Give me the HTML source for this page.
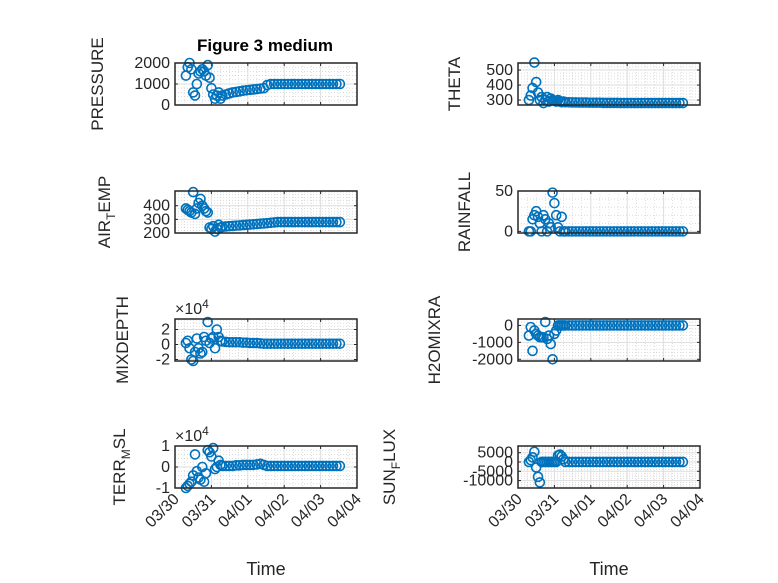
<!DOCTYPE html>
<html><head><meta charset="utf-8"><style>
body{margin:0;background:#fff}
svg{display:block;font-family:"Liberation Sans","DejaVu Sans",sans-serif}
</style></head><body>
<svg id="fig" width="778" height="583" viewBox="0 0 778 583">
<rect x="0" y="0" width="778" height="583" fill="#fff"/>
<text x="265" y="51" text-anchor="middle" font-weight="bold" font-size="17" fill="#000">Figure 3 medium</text>
</svg>
<script>
// shared time samples (days since 03/30)
const tEarly = [0.30,0.35,0.40,0.45,0.50,0.55,0.60,0.65,0.70,0.75,0.80,0.85,0.90,0.95,1.00,1.05,1.10,1.15,1.20,1.25];
const tDense = [1.30,1.395,1.49,1.585,1.68,1.775,1.87,1.965,2.06,2.155,2.25,2.345,2.44,2.535,2.63,2.725,2.82,2.915,3.01,3.105,3.20,3.295,3.39,3.485,3.58,3.675,3.77,3.865,3.96,4.055,4.15,4.245,4.34,4.435,4.53];
const xTickLabels = ["03/30","03/31","04/01","04/02","04/03","04/04"];

const pressureVals = [1400,1800,2000,1700,600,450,1000,1500,1600,1700,1600,1400,1900,1300,800,500,300,450,600,300,
 450,500,550,600,620,650,680,700,720,740,760,780,800,950,1000,1000,1000,1000,1000,1000,1000,1000,1000,1000,1000,1000,1000,1000,1000,1000,1000,1000,1000,1000,1000];
const thetaVals = [300,330,380,550,420,350,300,320,280,300,320,290,310,300,295,290,300,290,285,290,
 285,285,284,284,283,283,283,282,282,282,282,281,281,281,281,281,280,280,280,280,280,280,280,280,280,280,280,280,280,280,280,280,280,280,280];
const airTempVals = [380,370,360,350,500,340,380,420,450,400,380,360,350,240,230,250,210,230,260,240,
 245,248,250,252,254,256,258,260,262,264,266,268,270,272,275,278,280,280,280,280,280,280,280,280,280,280,280,280,280,280,280,280,280,280,280];
const rainfallVals = [0,0,15,20,25,18,10,0,20,15,0,10,5,48,35,20,5,0,18,0,
 0,0,0,0,0,0,0,0,0,0,0,0,0,0,0,0,0,0,0,0,0,0,0,0,0,0,0,0,0,0,0,0,0,0,0];
const mixDepthVals = [0.2,0.5,-0.5,-2,-2.2,-1,0.8,-0.5,-1.2,-1,1,0.5,3,0.2,0.8,1,-0.5,2,1,0.5,
 0.4,0.35,0.3,0.3,0.3,0.3,0.25,0.25,0.2,0.2,0.2,0.15,0.1,0.1,0.1,0.1,0.1,0.1,0.1,0.1,0.1,0.1,0.1,0.1,0.1,0.1,0.1,0.1,0.1,0.1,0.1,0.1,0.1,0.1,0.1];
const h2oVals = [-600,-100,-1500,-300,-500,-600,-700,-700,-700,200,-800,-600,-1100,-2000,-500,-300,0,0,0,0,
 0,0,0,0,0,0,0,0,0,0,0,0,0,0,0,0,0,0,0,0,0,0,0,0,0,0,0,0,0,0,0,0,0,0,0];
const terrVals = [-1,-0.9,-0.8,-0.7,-0.4,0.6,-0.2,-0.5,-0.6,0,-0.7,-0.3,0.8,0.7,0.5,0.9,-0.1,0,0.3,0.1,
 0.05,0.05,0.05,0.05,0.08,0.08,0.1,0.1,0.1,0.1,0.12,0.15,0.1,0.05,0.05,0.05,0.05,0.05,0.05,0.05,0.05,0.05,0.05,0.05,0.05,0.05,0.05,0.05,0.05,0.05,0.05,0.05,0.05,0.05,0.05];
const sunVals = [0,1000,2500,5500,-3000,-8000,-11000,0,0,0,0,0,0,0,0,0,3500,4000,3000,1500,
 0,0,0,0,0,0,0,0,0,0,0,0,0,0,0,0,0,0,0,0,0,0,0,0,0,0,0,0,0,0,0,0,0,0,0];

const tAll = tEarly.concat(tDense);
const NS = "http://www.w3.org/2000/svg";
const svg = document.getElementById("fig");
function el(tag, attrs, parent){const e=document.createElementNS(NS,tag);for(const k in attrs)e.setAttribute(k,attrs[k]);(parent||svg).appendChild(e);return e;}

const panels = [
 {name:"pressure",x0:175,y0:63,lab:["PRESSURE"],lx:103,vals:pressureVals,ymin:0,ymax:2000,ticks:[0,1000,2000],tl:["0","1000","2000"]},
 {name:"theta",x0:518,y0:63,lab:["THETA"],lx:460,vals:thetaVals,ymin:267,ymax:547,ticks:[300,400,500],tl:["300","400","500"]},
 {name:"air-temp",x0:175,y0:191,lab:["AIR","T","EMP"],lx:110,vals:airTempVals,ymin:200,ymax:508,ticks:[200,300,400],tl:["200","300","400"]},
 {name:"rainfall",x0:518,y0:191,lab:["RAINFALL"],lx:470,vals:rainfallVals,ymin:-2,ymax:50,ticks:[0,50],tl:["0","50"]},
 {name:"mixdepth",x0:175,y0:319,lab:["MIXDEPTH"],lx:128,vals:mixDepthVals,ymin:-2.2,ymax:3.4,ticks:[-2,0,2],tl:["-2","0","2"],exp:true},
 {name:"h2omixra",x0:518,y0:319,lab:["H2OMIXRA"],lx:440,vals:h2oVals,ymin:-2100,ymax:380,ticks:[-2000,-1000,0],tl:["-2000","-1000","0"]},
 {name:"terr-msl",x0:175,y0:446,lab:["TERR","M","SL"],lx:125,vals:terrVals,ymin:-1,ymax:1,ticks:[-1,0,1],tl:["-1","0","1"],exp:true,bottom:true},
 {name:"sun-flux",x0:518,y0:446,lab:["SUN","F","LUX"],lx:395,vals:sunVals,ymin:-14000,ymax:8600,ticks:[-10000,-5000,0,5000],tl:["-10000","-5000","0","5000"],bottom:true}
];
const W=182,H=42,days=5;
panels.forEach(p=>{
  const g=el("g",{});
  
  
  const xs=t=>p.x0+t/days*W;
  const ys=v=>p.y0+H-(v-p.ymin)/(p.ymax-p.ymin)*H;
  for(let d=0;d<=days*4;d++){if(d%4===0)continue;el("line",{x1:xs(d/4),x2:xs(d/4),y1:p.y0,y2:p.y0+H,stroke:"#c8c8c8","stroke-width":0.6,"stroke-dasharray":"1,2"},g);}
  const step=p.ticks[1]-p.ticks[0];
  for(let v=p.ticks[0]-step;v<=p.ymax;v+=step/5){if(v<p.ymin||v>p.ymax)continue;el("line",{x1:p.x0,x2:p.x0+W,y1:ys(v),y2:ys(v),stroke:"#c8c8c8","stroke-width":0.6,"stroke-dasharray":"1,2"},g);}
  for(let d=1;d<days;d++)el("line",{x1:xs(d),x2:xs(d),y1:p.y0,y2:p.y0+H,stroke:"#dedede","stroke-width":1},g);
  p.ticks.forEach((v,i)=>{
    el("line",{x1:p.x0,x2:p.x0+W,y1:ys(v),y2:ys(v),stroke:"#dedede","stroke-width":1},g);
    el("line",{x1:p.x0,x2:p.x0+3,y1:ys(v),y2:ys(v),stroke:"#262626"},g);
    el("line",{x1:p.x0+W,x2:p.x0+W-3,y1:ys(v),y2:ys(v),stroke:"#262626"},g);
    const t=el("text",{x:p.x0-5,y:ys(v)+5,"text-anchor":"end","font-size":16,fill:"#262626"},g);
    
    
    t.textContent=p.tl[i];
  });
  for(let d=0;d<=days;d++){
    el("line",{x1:xs(d),x2:xs(d),y1:p.y0+H,y2:p.y0+H-3,stroke:"#262626"},g);
    el("line",{x1:xs(d),x2:xs(d),y1:p.y0,y2:p.y0+3,stroke:"#262626"},g);
    if(p.bottom){
      const t=el("text",{x:xs(d)+5,y:p.y0+H+12,"text-anchor":"end","font-size":16,fill:"#262626",transform:`rotate(-45 ${xs(d)+5} ${p.y0+H+12})`},g);
      
      
      t.textContent=xTickLabels[d];
    }
  }
  tAll.forEach((t,i)=>{
    const c=el("circle",{cx:xs(t),cy:ys(p.vals[i]),r:4.5,fill:"none",stroke:"#0072BD","stroke-width":1.6},g);
    
    
  });
  el("rect",{x:p.x0,y:p.y0,width:W,height:H,fill:"none",stroke:"#262626","stroke-width":1.5},g);
  const cy=p.y0+H/2;
  const yl=el("text",{x:p.lx,y:cy,"text-anchor":"middle","font-size":17,fill:"#262626",transform:`rotate(-90 ${p.lx} ${cy})`},g);
  
  
  if(p.lab.length===1) yl.textContent=p.lab[0];
  else{
    const a=el("tspan",{},yl);a.textContent=p.lab[0];
    const b=el("tspan",{dy:5,"font-size":12},yl);b.textContent=p.lab[1];
    const c=el("tspan",{dy:-5},yl);c.textContent=p.lab[2];
  }
  if(p.exp){
    const e=el("text",{x:p.x0,y:p.y0-5,"font-size":16,fill:"#262626"},g);
    
    
    e.textContent="×10";
    const s=el("tspan",{dy:-6,"font-size":12},e);s.textContent="4";
  }
  if(p.bottom){
    const tx=el("text",{x:p.x0+W/2,y:575,"text-anchor":"middle","font-size":18,fill:"#262626"},g);
    
    
    tx.textContent="Time";
  }
});
</script>
</body></html>
